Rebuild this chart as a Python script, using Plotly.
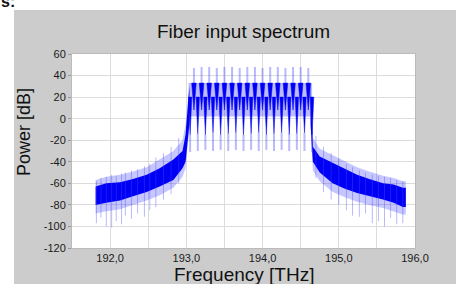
import plotly.graph_objects as go

# ---------------- data ----------------
x_tickvals = [191.5, 192.0, 192.5, 193.0, 193.5, 194.0, 194.5, 195.0, 195.5, 196.0]
x_ticktext = ['', '192,0', '', '193,0', '', '194,0', '', '195,0', '', '196,0']
y_tickvals = [-120, -100, -80, -60, -40, -20, 0, 20, 40, 60]
y_ticktext = ['-120', '-100', '-80', '-60', '-40', '-20', '0', '20', '40', '60']

# WDM channels (THz) and their levels (dB)
channel_freqs = [193.1, 193.2, 193.3, 193.4, 193.5, 193.6, 193.7, 193.8,
                 193.9, 194.0, 194.1, 194.2, 194.3, 194.4, 194.5, 194.6]
channel_spike_db = [47, 48, 48, 47, 48, 48, 47, 48, 48, 47, 48, 48, 47, 48, 48, 47]
channel_head_db = [33, 33, 33, 33, 33, 33, 33, 33, 33, 33, 33, 33, 33, 33, 33, 33]
channel_head_floor_db = [8, 8, 8, 8, 8, 8, 8, 8, 8, 8, 8, 8, 8, 8, 8, 8]

# gaps between channels
gap_freqs = [193.05, 193.15, 193.25, 193.35, 193.45, 193.55, 193.65, 193.75, 193.85,
             193.95, 194.05, 194.15, 194.25, 194.35, 194.45, 194.55, 194.65]
gap_top_db = [20, 20, 20, 20, 20, 20, 20, 20, 20, 20, 20, 20, 20, 20, 20, 20, 20]
gap_dark_floor_db = [-15, -14, -15, -13, -15, -14, -13, -15, -14, -13, -15, -14, -13, -15, -14, -13, -15]
gap_light_floor_db = [-31, -30, -29, -30, -29, -30, -29, -30, -29, -30, -29, -30, -29, -30, -29, -30, -31]

# comb background band
comb_freq = [193.03, 194.65]
comb_top = [33, 33]
comb_bot = [2, 2]

# left ASE wing
left_freq = [191.81, 191.95, 192.13, 192.30, 192.48, 192.65, 192.83, 192.95, 192.99, 193.04]
left_dark_top = [-63, -60, -59, -56, -52, -46, -38, -30, -15, 30]
left_dark_bot = [-80, -78, -76, -72, -68, -63, -57, -46, -40, -5]
left_fuzz_top = [-57, -54, -52, -49, -45, -38, -30, -20, -5, 33]
left_fuzz_bot = [-88, -86, -84, -80, -76, -71, -64, -54, -46, -10]

# right ASE wing
right_freq = [194.63, 194.66, 194.75, 194.92, 195.08, 195.24, 195.40, 195.58, 195.72, 195.84, 195.88]
right_dark_top = [30, -26, -35, -41, -47, -52, -56, -60, -61, -64, -64]
right_dark_bot = [-5, -40, -50, -60, -65, -69, -72, -75, -78, -82, -82]
right_fuzz_top = [33, -18, -28, -34, -40, -45, -49, -53, -55, -58, -58]
right_fuzz_bot = [-10, -48, -58, -68, -73, -77, -80, -83, -86, -89, -89]

# sparse light noise spikes in the wings
spike_freqs = [191.82, 191.88, 191.95, 192.02, 192.08, 192.15, 192.20, 192.28, 192.36,
               192.45, 192.52, 192.60, 192.70, 192.80, 192.90,
               194.70, 194.80, 194.90, 195.00, 195.10, 195.18, 195.27, 195.35, 195.44,
               195.52, 195.60, 195.68, 195.76, 195.84]
spike_lo_db = [-97, -92, -100, -101, -95, -98, -90, -93, -88, -91, -85, -82, -75, -70, -60,
               -55, -68, -75, -80, -85, -90, -91, -88, -97, -95, -100, -92, -98, -97]
spike_hi_db = [-58, -55, -54, -52, -53, -51, -50, -48, -47, -44, -42, -36, -32, -26, -18,
               -16, -26, -32, -37, -42, -45, -48, -50, -52, -53, -54, -55, -57, -58]

DARK = 'rgb(0,0,245)'
LIGHT = 'rgba(70,70,255,0.38)'
FUZZ = 'rgba(40,40,255,0.26)'

fig = go.Figure()


def band(xs, top, bot, color):
    fig.add_trace(go.Scatter(x=list(xs) + list(xs)[::-1], y=list(top) + list(bot)[::-1],
                             mode='lines', fill='toself', fillcolor=color,
                             line=dict(width=0), hoverinfo='skip', showlegend=False))


# fuzz around wings
band(left_freq, left_fuzz_top, left_fuzz_bot, FUZZ)
band(right_freq, right_fuzz_top, right_fuzz_bot, FUZZ)
# comb background
band(comb_freq, comb_top, comb_bot, 'rgba(30,30,255,0.30)')
# dark wings
band(left_freq, left_dark_top, left_dark_bot, DARK)
band(right_freq, right_dark_top, right_dark_bot, DARK)

# light spikes in wings
sx, sy = [], []
for f, lo, hi in zip(spike_freqs, spike_lo_db, spike_hi_db):
    sx += [f, f, None]
    sy += [lo, hi, None]
fig.add_trace(go.Scatter(x=sx, y=sy, mode='lines', line=dict(color=LIGHT, width=1),
                         hoverinfo='skip', showlegend=False))

# light spikes of the comb (carrier spikes up, gap nulls down)
lx, ly = [], []
for f, top, hd in zip(channel_freqs, channel_spike_db, channel_head_db):
    lx += [f, f, None]
    ly += [hd, top, None]
for f, lo, fl in zip(gap_freqs, gap_light_floor_db, gap_dark_floor_db):
    lx += [f, f, None]
    ly += [fl, lo, None]
fig.add_trace(go.Scatter(x=lx, y=ly, mode='lines', line=dict(color=LIGHT, width=2),
                         hoverinfo='skip', showlegend=False))

# dark gap tails
tx, ty = [], []
for f, top, fl in zip(gap_freqs, gap_top_db, gap_dark_floor_db):
    tx += [f - 0.022, f + 0.022, f, f - 0.022, None]
    ty += [top, top, fl, top, None]
fig.add_trace(go.Scatter(x=tx, y=ty, mode='lines', fill='toself', fillcolor=DARK,
                         line=dict(color=DARK, width=0.5), hoverinfo='skip', showlegend=False))

# dark channel heads
hx, hy = [], []
for f, hd, fl in zip(channel_freqs, channel_head_db, channel_head_floor_db):
    hx += [f - 0.03, f + 0.03, f, f - 0.03, None]
    hy += [hd, hd, fl, hd, None]
fig.add_trace(go.Scatter(x=hx, y=hy, mode='lines', fill='toself', fillcolor=DARK,
                         line=dict(color=DARK, width=0.5), hoverinfo='skip', showlegend=False))

FONT = 'Liberation Sans, Arial, sans-serif'
L, R, T, B = 72, 415, 54, 248
W, H = 459, 284
pw, ph = R - L, B - T


def px_x(px):
    return (px - L) / pw


def px_y(py):
    return (B - py) / ph


fig.update_layout(
    width=W, height=H,
    margin=dict(l=L, r=W - R, t=T, b=H - B, pad=0),
    paper_bgcolor='#cccccc', plot_bgcolor='white',
    font=dict(family=FONT, color='#1a1a1a'),
    title=dict(text='Fiber input spectrum', x=px_x(243.5), xref='paper', xanchor='center',
               y=1 - 38 / H, yanchor='bottom', yref='container',
               font=dict(size=19, family=FONT, color='#111111')),
    xaxis=dict(range=[191.5, 196.0], tickvals=x_tickvals, ticktext=x_ticktext,
               showgrid=True, gridcolor='#dcdcdc', gridwidth=1,
               ticks='', showline=True, linecolor='#bbbbbb', mirror=True,
               tickfont=dict(size=11, family=FONT, color='#1a1a1a'), zeroline=False),
    yaxis=dict(range=[-120, 60], tickvals=y_tickvals, ticktext=y_ticktext,
               showgrid=True, gridcolor='#dcdcdc', gridwidth=1,
               ticks='outside', ticklen=3, tickcolor='#999999',
               showline=True, linecolor='#bbbbbb', mirror=True,
               tickfont=dict(size=11, family=FONT, color='#1a1a1a'), zeroline=False),
    shapes=[
        dict(type='rect', xref='paper', yref='paper', x0=px_x(-5), x1=px_x(W + 5),
             y0=px_y(10), y1=px_y(-5), fillcolor='white', line=dict(width=0), layer='above'),
        dict(type='rect', xref='paper', yref='paper', x0=px_x(-5), x1=px_x(14),
             y0=px_y(H + 5), y1=px_y(-5), fillcolor='white', line=dict(width=0), layer='above'),
        dict(type='rect', xref='paper', yref='paper', x0=px_x(456), x1=px_x(W + 5),
             y0=px_y(H + 5), y1=px_y(-5), fillcolor='white', line=dict(width=0), layer='above'),
    ],
    annotations=[
        dict(text='<b>s:</b>', xref='paper', yref='paper', x=px_x(-1), y=px_y(12),
             xanchor='left', yanchor='bottom', showarrow=False,
             font=dict(size=16, family=FONT, color='#111111')),
        dict(text='Frequency [THz]', xref='paper', yref='paper', x=px_x(243.5), y=px_y(287),
             xanchor='center', yanchor='bottom', showarrow=False,
             font=dict(size=19, family=FONT, color='#111111')),
        dict(text='Power [dB]', xref='paper', yref='paper', x=px_x(24), y=px_y(132),
             xanchor='center', yanchor='middle', textangle=-90, showarrow=False,
             font=dict(size=18, family=FONT, color='#111111')),
    ],
)

fig.write_html('out.html', config={'displayModeBar': False},
               post_script="document.body.style.margin='0';document.body.style.overflow='hidden';")
